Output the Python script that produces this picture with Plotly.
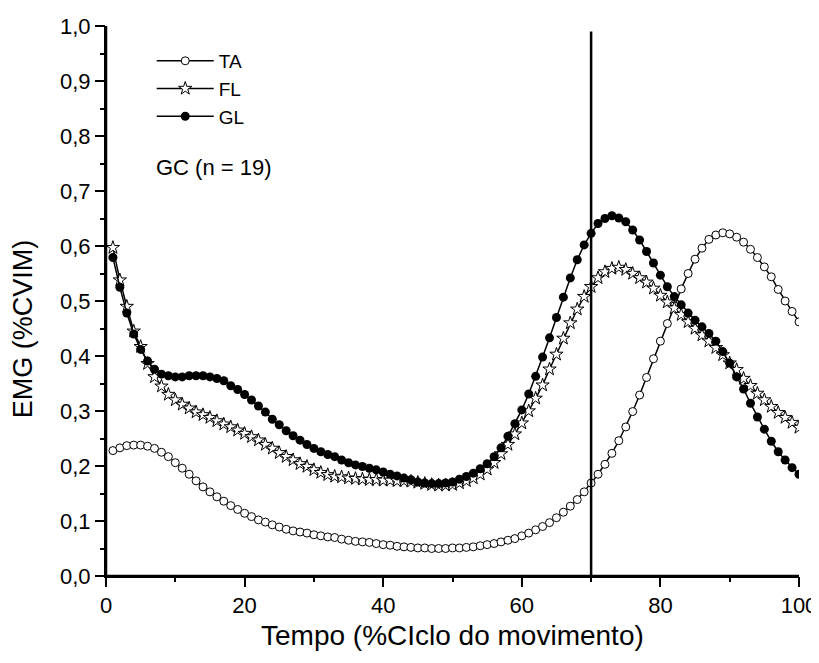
import plotly.graph_objects as go

# tempo (% do ciclo), um ponto por 1%
tempo = list(range(1, 101))

ta = [0.228, 0.233, 0.237, 0.238, 0.238, 0.236, 0.232, 0.225, 0.217, 0.206,
      0.196, 0.185, 0.173, 0.162, 0.153, 0.144, 0.136, 0.128, 0.121, 0.114,
      0.108, 0.102, 0.098, 0.093, 0.089, 0.085, 0.082, 0.080, 0.078, 0.075,
      0.073, 0.071, 0.070, 0.067, 0.065, 0.063, 0.062, 0.061, 0.059, 0.057,
      0.056, 0.054, 0.053, 0.052, 0.051, 0.051, 0.050, 0.050, 0.050, 0.051,
      0.051, 0.052, 0.053, 0.055, 0.057, 0.059, 0.062, 0.065, 0.068, 0.073,
      0.078, 0.084, 0.090, 0.097, 0.106, 0.116, 0.127, 0.139, 0.153, 0.169,
      0.185, 0.203, 0.223, 0.246, 0.271, 0.299, 0.329, 0.361, 0.395, 0.427,
      0.459, 0.491, 0.522, 0.550, 0.576, 0.596, 0.612, 0.620, 0.624, 0.622,
      0.616, 0.607, 0.594, 0.579, 0.562, 0.544, 0.521, 0.500, 0.481, 0.462]

fl = [0.597, 0.538, 0.490, 0.445, 0.417, 0.386, 0.362, 0.345, 0.330, 0.320,
      0.312, 0.305, 0.298, 0.293, 0.288, 0.282, 0.276, 0.271, 0.265, 0.259,
      0.253, 0.247, 0.239, 0.232, 0.224, 0.217, 0.211, 0.204, 0.199, 0.193,
      0.188, 0.184, 0.181, 0.180, 0.178, 0.177, 0.176, 0.175, 0.175, 0.174,
      0.174, 0.173, 0.173, 0.172, 0.170, 0.168, 0.166, 0.165, 0.165, 0.166,
      0.169, 0.173, 0.178, 0.185, 0.194, 0.206, 0.222, 0.239, 0.258, 0.278,
      0.300, 0.323, 0.347, 0.376, 0.403, 0.432, 0.460, 0.485, 0.508, 0.526,
      0.542, 0.553, 0.559, 0.561, 0.557, 0.550, 0.542, 0.534, 0.523, 0.510,
      0.498, 0.487, 0.475, 0.462, 0.450, 0.438, 0.427, 0.415, 0.402, 0.387,
      0.375, 0.359, 0.346, 0.332, 0.320, 0.308, 0.297, 0.288, 0.279, 0.270]

gl = [0.579, 0.525, 0.478, 0.440, 0.412, 0.391, 0.376, 0.367, 0.364, 0.362,
      0.362, 0.364, 0.364, 0.364, 0.362, 0.359, 0.355, 0.346, 0.339, 0.330,
      0.320, 0.309, 0.298, 0.285, 0.275, 0.264, 0.255, 0.247, 0.239, 0.232,
      0.226, 0.221, 0.217, 0.211, 0.206, 0.202, 0.199, 0.196, 0.193, 0.189,
      0.185, 0.182, 0.178, 0.175, 0.171, 0.169, 0.168, 0.168, 0.169, 0.171,
      0.176, 0.181, 0.187, 0.195, 0.204, 0.217, 0.233, 0.254, 0.277, 0.302,
      0.331, 0.363, 0.398, 0.433, 0.470, 0.507, 0.542, 0.575, 0.602, 0.623,
      0.641, 0.650, 0.655, 0.651, 0.644, 0.629, 0.611, 0.590, 0.569, 0.547,
      0.526, 0.508, 0.493, 0.478, 0.465, 0.453, 0.441, 0.427, 0.408, 0.387,
      0.362, 0.340, 0.314, 0.289, 0.267, 0.245, 0.226, 0.211, 0.197, 0.185]

corte = 70  # linha vertical

FONT = "Arial, Liberation Sans, sans-serif"

fig = go.Figure()
series = [
    ("TA", ta, dict(symbol="circle", size=8, color="white", line=dict(color="black", width=1))),
    ("FL", fl, dict(symbol="star", size=10, color="white", line=dict(color="black", width=1))),
    ("GL", gl, dict(symbol="circle", size=9, color="black", line=dict(color="black", width=0))),
]
for nome, vals, mk in series:
    fig.add_trace(go.Scatter(x=tempo, y=vals, name=nome, mode="lines+markers",
                             line=dict(color="black", width=1.5), marker=mk))

# tracos vazios: eixos sobrepostos so para os ticks (menores e maiores)
for ax in ("2", "3"):
    fig.add_trace(go.Scatter(x=[], y=[], xaxis="x" + ax, yaxis="y" + ax,
                             showlegend=False, hoverinfo="skip"))

# linhas dos eixos (referencia mista: eixo de dados + paper)
fig.add_shape(type="line", xref="x", yref="paper", x0=0, x1=100, y0=0, y1=0,
              line=dict(color="black", width=2.5))
fig.add_shape(type="line", xref="paper", yref="y", x0=0, x1=0, y0=0, y1=1.0,
              line=dict(color="black", width=2.5))

fig.add_shape(type="line", x0=corte, x1=corte, y0=0, y1=0.99, xref="x", yref="y",
              line=dict(color="black", width=2.5))

fig.add_annotation(text="GC (n = 19)", x=0.069, y=0.742, xref="paper", yref="paper",
                   xanchor="left", yanchor="middle", showarrow=False,
                   font=dict(family=FONT, size=22, color="black"))
fig.add_annotation(text="EMG (%CVIM)", x=-0.12, y=0.45, xref="paper", yref="paper",
                   textangle=-90, showarrow=False, xanchor="center", yanchor="middle",
                   font=dict(family=FONT, size=27, color="black"))
fig.add_annotation(text="Tempo (%CIclo do movimento)", x=0.5, y=-0.109, xref="paper", yref="paper",
                   showarrow=False, xanchor="center", yanchor="middle",
                   font=dict(family=FONT, size=28, color="black"))

tick_only = dict(showticklabels=False, showgrid=False, zeroline=False, showline=False,
                 ticks="outside", tickwidth=2, tickcolor="black", automargin=False)

fig.update_layout(
    width=819, height=663,
    separators=",.",
    plot_bgcolor="white", paper_bgcolor="white",
    margin=dict(l=98, r=28, t=18, b=95),
    font=dict(family=FONT, color="black"),
    showlegend=True,
    legend=dict(x=0.066, y=0.971, xanchor="left", yanchor="top", itemwidth=57,
                bgcolor="rgba(0,0,0,0)", font=dict(family=FONT, size=19, color="black"),
                tracegroupgap=0),
    xaxis=dict(range=[0, 100], dtick=20, tick0=0, automargin=False,
               showline=True, linecolor="black", linewidth=2,
               ticks="outside", ticklen=9, tickwidth=2, tickcolor="black",
               showgrid=False, zeroline=False,
               tickfont=dict(family=FONT, size=22, color="black")),
    yaxis=dict(range=[0, 1.0], dtick=0.1, tick0=0, tickformat=".1f", automargin=False,
               showline=True, linecolor="black", linewidth=2,
               ticks="outside", ticklen=9, tickwidth=2, tickcolor="black",
               showgrid=False, zeroline=False,
               tickfont=dict(family=FONT, size=22, color="black")),
    xaxis2=dict(overlaying="x", anchor="y2", side="bottom", range=[0, 100], dtick=10, tick0=0,
                ticklen=5, **tick_only),
    yaxis2=dict(overlaying="y", anchor="x2", side="left", range=[0, 1.0], dtick=0.05, tick0=0,
                ticklen=5, **tick_only),
    xaxis3=dict(overlaying="x", anchor="y3", side="bottom", range=[0, 100], dtick=20, tick0=0,
                ticklen=9, **tick_only),
    yaxis3=dict(overlaying="y", anchor="x3", side="left", range=[0, 1.0], dtick=0.1, tick0=0,
                ticklen=9, **tick_only),
)

fig.write_html("out.html")
